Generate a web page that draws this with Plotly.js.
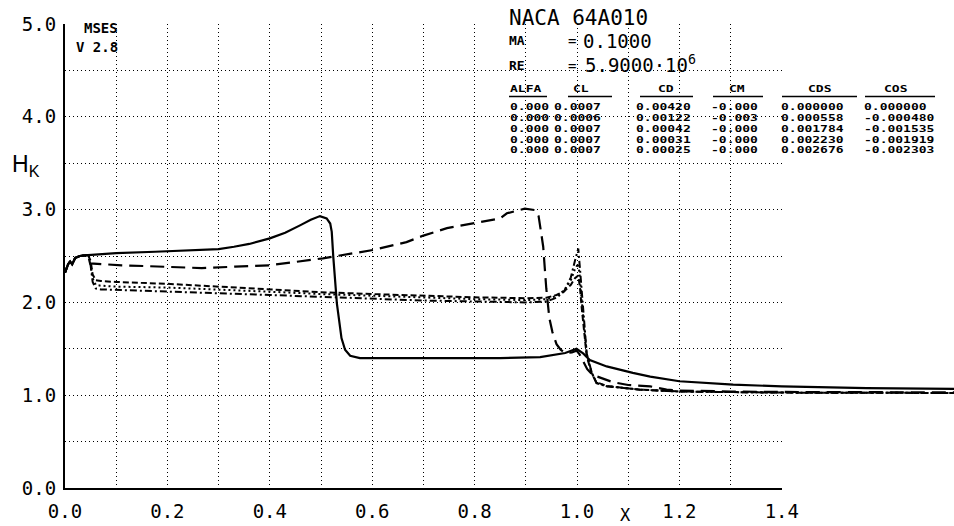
<!DOCTYPE html>
<html><head><meta charset="utf-8">
<script src="https://cdn.plot.ly/plotly-3.0.1.min.js"></script>
<style>html,body{margin:0;padding:0;background:#fff;}#chart{width:954px;height:526px;}</style>
</head><body><div id="chart"></div>
<script>
// ---------- data ----------
const x1 = [0, 0.006, 0.010, 0.014, 0.020, 0.029, 0.045, 0.065, 0.10, 0.176, 0.264, 0.30, 0.33, 0.36, 0.40, 0.43, 0.459, 0.48, 0.498, 0.511, 0.518, 0.521, 0.524, 0.531, 0.540, 0.547, 0.557, 0.576, 0.65, 0.75, 0.85, 0.928, 0.977, 0.999, 1.012, 1.025, 1.044, 1.058, 1.109, 1.143, 1.20, 1.305, 1.40, 1.566, 1.74];
const h1 = [2.32, 2.41, 2.44, 2.41, 2.48, 2.50, 2.51, 2.52, 2.53, 2.546, 2.565, 2.575, 2.60, 2.63, 2.69, 2.75, 2.83, 2.89, 2.93, 2.905, 2.85, 2.76, 2.49, 1.99, 1.615, 1.49, 1.425, 1.40, 1.40, 1.40, 1.40, 1.41, 1.455, 1.50, 1.45, 1.38, 1.335, 1.31, 1.24, 1.20, 1.15, 1.113, 1.095, 1.077, 1.067];

const x2 = [0, 0.006, 0.010, 0.014, 0.020, 0.029, 0.045, 0.049, 0.111, 0.195, 0.267, 0.332, 0.400, 0.504, 0.602, 0.667, 0.70, 0.746, 0.804, 0.850, 0.863, 0.898, 0.918, 0.925, 0.930, 0.934, 0.940, 0.946, 0.952, 0.960, 0.968, 0.977, 0.990, 0.999, 1.005, 1.012, 1.020, 1.030, 1.045, 1.07, 1.10, 1.143, 1.175, 1.20, 1.30, 1.40, 1.74];
const h2 = [2.32, 2.41, 2.44, 2.41, 2.48, 2.50, 2.51, 2.42, 2.40, 2.385, 2.37, 2.385, 2.40, 2.475, 2.565, 2.65, 2.72, 2.80, 2.86, 2.905, 2.96, 3.01, 2.995, 2.93, 2.75, 2.60, 2.15, 1.83, 1.68, 1.55, 1.49, 1.455, 1.46, 1.48, 1.44, 1.36, 1.28, 1.22, 1.19, 1.14, 1.11, 1.095, 1.06, 1.05, 1.04, 1.035, 1.03];

const x3 = [0, 0.006, 0.010, 0.014, 0.020, 0.029, 0.045, 0.050, 0.054, 0.060, 0.070, 0.10, 0.20, 0.30, 0.40, 0.50, 0.60, 0.70, 0.80, 0.90, 0.94, 0.96, 0.975, 0.988, 0.996, 1.0025, 1.006, 1.009, 1.016, 1.019, 1.029, 1.038, 1.058, 1.123, 1.20, 1.40, 1.74];
const h3 = [2.32, 2.41, 2.44, 2.41, 2.48, 2.50, 2.51, 2.45, 2.30, 2.24, 2.23, 2.22, 2.20, 2.17, 2.14, 2.11, 2.09, 2.07, 2.055, 2.045, 2.05, 2.08, 2.12, 2.19, 2.26, 2.29, 2.15, 1.95, 1.62, 1.42, 1.23, 1.14, 1.10, 1.06, 1.04, 1.028, 1.024];
const h4 = [2.32, 2.41, 2.44, 2.41, 2.48, 2.50, 2.51, 2.42, 2.26, 2.19, 2.18, 2.17, 2.16, 2.14, 2.115, 2.09, 2.07, 2.05, 2.035, 2.025, 2.035, 2.07, 2.13, 2.24, 2.36, 2.42, 2.25, 2.03, 1.66, 1.44, 1.24, 1.135, 1.097, 1.06, 1.04, 1.028, 1.024];
const h5 = [2.32, 2.41, 2.44, 2.41, 2.48, 2.50, 2.51, 2.40, 2.22, 2.15, 2.14, 2.135, 2.12, 2.10, 2.08, 2.06, 2.04, 2.02, 2.01, 2.00, 2.01, 2.05, 2.12, 2.27, 2.45, 2.58, 2.35, 2.13, 1.70, 1.45, 1.24, 1.13, 1.095, 1.06, 1.04, 1.028, 1.024];

const xTickVals = [0, 0.2, 0.4, 0.6, 0.8, 1.0, 1.2, 1.4];
const yTickVals = [0, 1, 2, 3, 4, 5];

const tableHeaders = ['ALFA', 'CL', 'CD', 'CM', 'CDS', 'COS'];
const colALFA = ['0.000', '0.000', '0.000', '0.000', '0.000'];
const colCL   = ['0.0007', '0.0006', '0.0007', '0.0007', '0.0007'];
const colCD   = ['0.00420', '0.00122', '0.00042', '0.00031', '0.00025'];
const colCM   = ['-0.000', '-0.003', '-0.000', '-0.000', '-0.000'];
const colCDS  = ['0.000000', '0.000558', '0.001784', '0.002230', '0.002676'];
const colCOS  = ['0.000000', '-0.000480', '-0.001535', '-0.001919', '-0.002303'];

// ---------- layout helpers (pixel placement of text block) ----------
const W = 954, H = 526, ML = 65, MT = 24, MB = 37.5;
const PW = W - ML, PH = H - MT - MB;
const XSCALE = 512;                 // px per unit x
const XMAX = PW / XSCALE;           // right edge of data area
const GRIDX = 1.4;
const px = p => (p - ML) / PW;
const py = p => (H - MB - p) / PH;
const MONO = 'DejaVu Sans Mono';
const SQUASH = 0.68;                // plotter-like flat table glyphs

const annotations = [];
const squashIdx = [];
function txt(t, x, y, size, opts) {
  annotations.push(Object.assign({
    text: t, xref: 'paper', yref: 'paper', x: px(x), y: py(y),
    xanchor: 'left', yanchor: 'middle', showarrow: false,
    font: {family: MONO, size: size, color: '#000'}
  }, opts || {}));
  return annotations.length - 1;
}
const boldMono = s => ({font: {family: MONO, size: s, color: '#000', weight: 'bold'}});
txt('MSES', 82, 28, 14, boldMono(14));
txt('V 2.8', 74, 47, 14, boldMono(14));
txt('NACA 64A010', 507, 17.5, 21);
txt('MA', 507, 41, 13, boldMono(13));
txt('=', 566, 41, 14);
txt('0.1000', 581, 41, 19);
txt('RE', 507, 66, 13, boldMono(13));
txt('=', 566, 66, 14);
txt('5.9000·10<sup>6</sup>', 583, 64, 19);

const headLeft = [508, 571, 656, 727, 806, 882];
const ulStart  = [509, 568, 640, 713, 782, 865];
const ulEnd    = [547, 612, 693, 763, 857, 935];
const colLeft  = [508, 552, 634, 709, 779, 862];
const rowY     = [107, 118, 128.7, 139.3, 150];
const cols = [colALFA, colCL, colCD, colCM, colCDS, colCOS];
const shapes = [];
tableHeaders.forEach((h, i) => {
  squashIdx.push(txt(h, headLeft[i], 89, 13, boldMono(13)));
  shapes.push({type: 'line', xref: 'paper', yref: 'paper', x0: px(ulStart[i]), x1: px(ulEnd[i]),
               y0: py(96.5), y1: py(96.5), line: {color: '#000', width: 1.5}});
});
cols.forEach((c, i) => c.forEach((v, r) => {
  squashIdx.push(txt(v, colLeft[i], rowY[r], 13, boldMono(13)));
}));
// axis titles
annotations.push({text: 'H<sub>K</sub>', xref: 'paper', yref: 'paper', x: px(10), y: py(166),
  xanchor: 'left', yanchor: 'middle', showarrow: false,
  font: {family: 'Liberation Sans', size: 23, color: '#000'}});
annotations.push({text: 'X', xref: 'paper', yref: 'paper', x: px(625), y: py(515.5),
  xanchor: 'center', yanchor: 'middle', showarrow: false, borderpad: 0,
  font: {family: MONO, size: 17, color: '#000'}});

const gridStyle = {showgrid: true, gridcolor: '#000', gridwidth: 1, griddash: '1px,3px'};

const traces = [
  // helper so that the grid/axes subplot is drawn (fully transparent)
  {x: x1, y: h1, mode: 'lines', xaxis: 'x', yaxis: 'y', opacity: 0, line: {width: 0}, hoverinfo: 'skip', showlegend: false}
].concat([
  {x: x1, y: h1, mode: 'lines', line: {color: '#000', width: 2.2, dash: 'solid'}},
  {x: x2, y: h2, mode: 'lines', line: {color: '#000', width: 2.2, dash: '14px,7px'}},
  {x: x3, y: h3, mode: 'lines', line: {color: '#000', width: 2, dash: '6px,3px'}},
  {x: x3, y: h4, mode: 'lines', line: {color: '#000', width: 2, dash: '2px,3px'}},
  {x: x3, y: h5, mode: 'lines', line: {color: '#000', width: 2, dash: '7px,3px,2px,3px'}}
].map(t => Object.assign(t, {xaxis: 'x2', yaxis: 'y2', hoverinfo: 'skip', showlegend: false})));

const layout = {
  width: W, height: H,
  margin: {l: ML, r: 0, t: MT, b: MB, pad: 0},
  paper_bgcolor: '#fff', plot_bgcolor: 'rgba(0,0,0,0)',
  showlegend: false,
  xaxis: Object.assign({
    domain: [0, GRIDX / XMAX], range: [0, GRIDX], anchor: 'y',
    tickvals: xTickVals, tickformat: '.1f', ticks: '', ticklabelstandoff: 5,
    tickfont: {family: MONO, size: 19, color: '#000'},
    showline: true, linecolor: '#000', linewidth: 2, zeroline: false,
    minor: Object.assign({dtick: 0.1, tick0: 0}, gridStyle)
  }, gridStyle),
  yaxis: Object.assign({
    domain: [0, 1], range: [0, 5], anchor: 'x',
    tickvals: yTickVals, tickformat: '.1f', ticks: '', ticklabelstandoff: 3,
    tickfont: {family: MONO, size: 19, color: '#000'},
    showline: true, linecolor: '#000', linewidth: 2, zeroline: false,
    minor: Object.assign({dtick: 0.5, tick0: 0}, gridStyle)
  }, gridStyle),
  xaxis2: {domain: [0, 1], range: [0, XMAX], anchor: 'y2', visible: false, fixedrange: true},
  yaxis2: {domain: [0, 1], range: [0, 5], anchor: 'x2', visible: false, fixedrange: true},
  annotations: annotations,
  shapes: shapes
};

Plotly.newPlot('chart', traces, layout, {staticPlot: true, displayModeBar: false}).then(gd => {
  squashIdx.forEach(i => {
    const t = gd.querySelector('.annotation[data-index="' + i + '"] text.annotation-text');
    if (!t) return;
    const bb = t.getBBox();
    const cy = bb.y + bb.height / 2;
    const prev = t.getAttribute('transform') || '';
    t.setAttribute('transform', prev + ' translate(0,' + cy + ') scale(1,' + SQUASH + ') translate(0,' + (-cy) + ')');
  });
  // drop empty / zero-size placeholder text nodes (unused axis titles etc.)
  document.querySelectorAll('svg text').forEach(t => {
    let empty = !t.textContent.trim();
    if (!empty) { try { const b = t.getBBox(); empty = b.width === 0 || b.height === 0; } catch (e) {} }
    if (empty) t.remove();
  });
});
</script></body></html>
